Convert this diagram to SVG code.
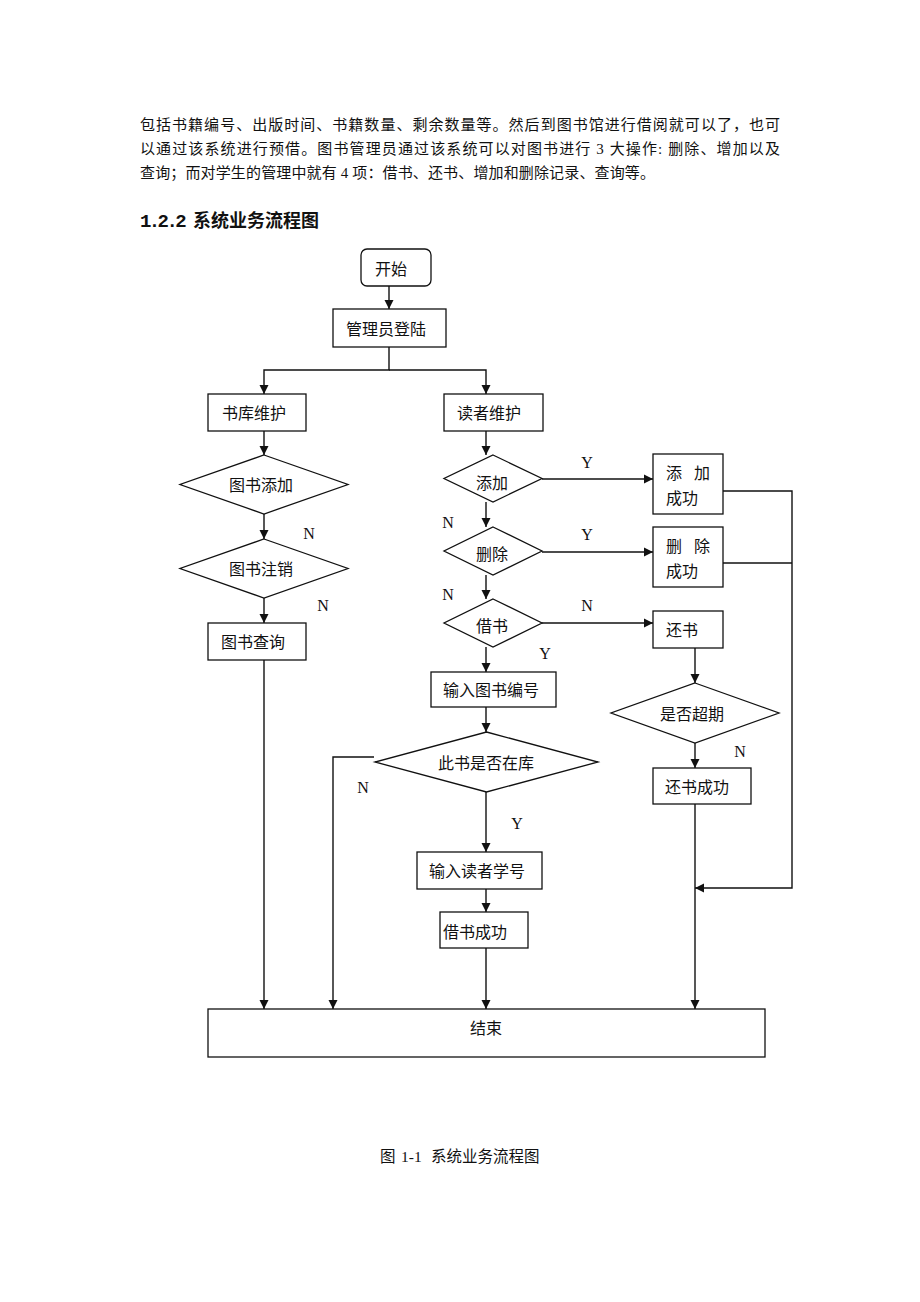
<svg xmlns="http://www.w3.org/2000/svg" width="920" height="1302" viewBox="0 0 920 1302">
<style>
text{font-family:"Liberation Serif","Noto Sans CJK SC",serif;fill:#111}
.t{font-size:16px;text-anchor:middle}
.yn{font-size:16px;text-anchor:middle;font-family:"Liberation Serif",serif}
.p{font-size:15px}
.b{fill:#fff;stroke:#111;stroke-width:1.3}
.c{fill:none;stroke:#111;stroke-width:1.4}
</style>
<defs>
<marker id="ah" viewBox="0 0 10 10" refX="10" refY="5" markerWidth="9" markerHeight="10" markerUnits="userSpaceOnUse" orient="auto">
<path d="M0,0 L10,5 L0,10 z" fill="#111"/>
</marker>
</defs>
<rect width="920" height="1302" fill="#fff"/>

<g id="paragraph">
<text class="p" x="140" y="130" textLength="640" lengthAdjust="spacing">包括书籍编号、出版时间、书籍数量、剩余数量等。然后到图书馆进行借阅就可以了，也可</text>
<text class="p" x="140" y="154" textLength="640" lengthAdjust="spacing">以通过该系统进行预借。图书管理员通过该系统可以对图书进行 3 大操作: 删除、增加以及</text>
<text class="p" x="140" y="178" textLength="515" lengthAdjust="spacing">查询；而对学生的管理中就有 4 项：借书、还书、增加和删除记录、查询等。</text>
</g>
<g id="heading">
<text x="140" y="227" font-size="18" font-weight="bold"><tspan font-family="Liberation Mono" font-size="19" letter-spacing="-2.6">1.2.2</tspan><tspan x="193">系统业务流程图</tspan></text>
</g>

<g id="connectors">
<line class="c" x1="389" y1="286" x2="389" y2="309" marker-end="url(#ah)"/>
<polyline class="c" points="389,347 389,370 264,370 264,394" marker-end="url(#ah)"/>
<polyline class="c" points="389,370 486,370 486,394" marker-end="url(#ah)"/>
<line class="c" x1="264" y1="431" x2="264" y2="455" marker-end="url(#ah)"/>
<line class="c" x1="264" y1="514" x2="264" y2="539" marker-end="url(#ah)"/>
<line class="c" x1="264" y1="598" x2="264" y2="623" marker-end="url(#ah)"/>
<line class="c" x1="264" y1="660" x2="264" y2="1009" marker-end="url(#ah)"/>
<line class="c" x1="486" y1="431" x2="486" y2="455" marker-end="url(#ah)"/>
<line class="c" x1="486" y1="502" x2="486" y2="527" marker-end="url(#ah)"/>
<line class="c" x1="486" y1="575" x2="486" y2="599" marker-end="url(#ah)"/>
<line class="c" x1="486" y1="647" x2="486" y2="672" marker-end="url(#ah)"/>
<line class="c" x1="486" y1="707" x2="486" y2="732" marker-end="url(#ah)"/>
<line class="c" x1="486" y1="792" x2="486" y2="852" marker-end="url(#ah)"/>
<line class="c" x1="486" y1="889" x2="486" y2="912" marker-end="url(#ah)"/>
<line class="c" x1="486" y1="948" x2="486" y2="1009" marker-end="url(#ah)"/>
<line class="c" x1="542" y1="479" x2="653" y2="479" marker-end="url(#ah)"/>
<line class="c" x1="542" y1="552" x2="653" y2="552" marker-end="url(#ah)"/>
<line class="c" x1="542" y1="623" x2="653" y2="623" marker-end="url(#ah)"/>
<line class="c" x1="695" y1="648" x2="695" y2="683" marker-end="url(#ah)"/>
<line class="c" x1="695" y1="743" x2="695" y2="768" marker-end="url(#ah)"/>
<line class="c" x1="695" y1="804" x2="695" y2="1009" marker-end="url(#ah)"/>
<polyline class="c" points="723,491 792,491 792,888 695,888" marker-end="url(#ah)"/>
<line class="c" x1="723" y1="563" x2="792" y2="563"/>
<polyline class="c" points="374,757 333,757 333,1009" marker-end="url(#ah)"/>
<text class="yn" x="309" y="539">N</text>
<text class="yn" x="323" y="611">N</text>
<text class="yn" x="448" y="528">N</text>
<text class="yn" x="448" y="600">N</text>
<text class="yn" x="545" y="659">Y</text>
<text class="yn" x="587" y="468">Y</text>
<text class="yn" x="587" y="540">Y</text>
<text class="yn" x="587" y="611">N</text>
<text class="yn" x="740" y="757">N</text>
<text class="yn" x="363" y="793">N</text>
<text class="yn" x="517" y="829">Y</text>
</g>

<g id="start"><rect class="b" x="361" y="249" width="70" height="37" rx="6"/><text class="t" x="391" y="275">开始</text></g>
<g id="login"><rect class="b" x="333" y="309" width="113" height="38"/><text class="t" x="386" y="335">管理员登陆</text></g>
<g id="lib-maint"><rect class="b" x="208" y="394" width="98" height="37"/><text class="t" x="254" y="419">书库维护</text></g>
<g id="reader-maint"><rect class="b" x="444" y="394" width="99" height="37"/><text class="t" x="489" y="419">读者维护</text></g>
<g id="book-add"><polygon class="b" points="264,455 348,484.5 264,514 180,484.5"/><text class="t" x="261" y="491">图书添加</text></g>
<g id="book-cancel"><polygon class="b" points="264,539 348,568.5 264,598 180,568.5"/><text class="t" x="261" y="575">图书注销</text></g>
<g id="book-query"><rect class="b" x="208" y="623" width="98" height="37"/><text class="t" x="253" y="648">图书查询</text></g>
<g id="add"><polygon class="b" points="493,455 542,478.5 493,502 444,478.5"/><text class="t" x="492" y="489">添加</text></g>
<g id="delete"><polygon class="b" points="493,527 542,551 493,575 444,551"/><text class="t" x="492" y="560">删除</text></g>
<g id="borrow"><polygon class="b" points="493,599 542,623 493,647 444,623"/><text class="t" x="492" y="632">借书</text></g>
<g id="add-ok"><rect class="b" x="653" y="454" width="70" height="60"/><text x="666" y="479" font-size="16">添<tspan x="694">加</tspan></text><text x="666" y="504" font-size="16">成功</text></g>
<g id="del-ok"><rect class="b" x="653" y="527" width="70" height="60"/><text x="666" y="552" font-size="16">删<tspan x="694">除</tspan></text><text x="666" y="577" font-size="16">成功</text></g>
<g id="return"><rect class="b" x="653" y="611" width="70" height="37"/><text x="666" y="636" font-size="16">还书</text></g>
<g id="overdue"><polygon class="b" points="695,683 779,713 695,743 611,713"/><text class="t" x="692" y="720">是否超期</text></g>
<g id="return-ok"><rect class="b" x="653" y="768" width="98" height="36"/><text class="t" x="697" y="793">还书成功</text></g>
<g id="input-book"><rect class="b" x="431" y="672" width="125" height="35"/><text class="t" x="491" y="696">输入图书编号</text></g>
<g id="in-stock"><polygon class="b" points="486.5,732 598,762 486.5,792 375,762"/><text class="t" x="486" y="769">此书是否在库</text></g>
<g id="input-reader"><rect class="b" x="417" y="852" width="125" height="37"/><text class="t" x="477" y="877">输入读者学号</text></g>
<g id="borrow-ok"><rect class="b" x="440" y="912" width="88" height="36"/><text class="t" x="475" y="938">借书成功</text></g>
<g id="end"><rect class="b" x="208" y="1009" width="557" height="48"/><text class="t" x="486" y="1034">结束</text></g>

<g id="caption">
<text x="380" y="1162" font-size="15.5">图<tspan x="401">1-1</tspan><tspan x="431">系统业务流程图</tspan></text>
</g>
</svg>
